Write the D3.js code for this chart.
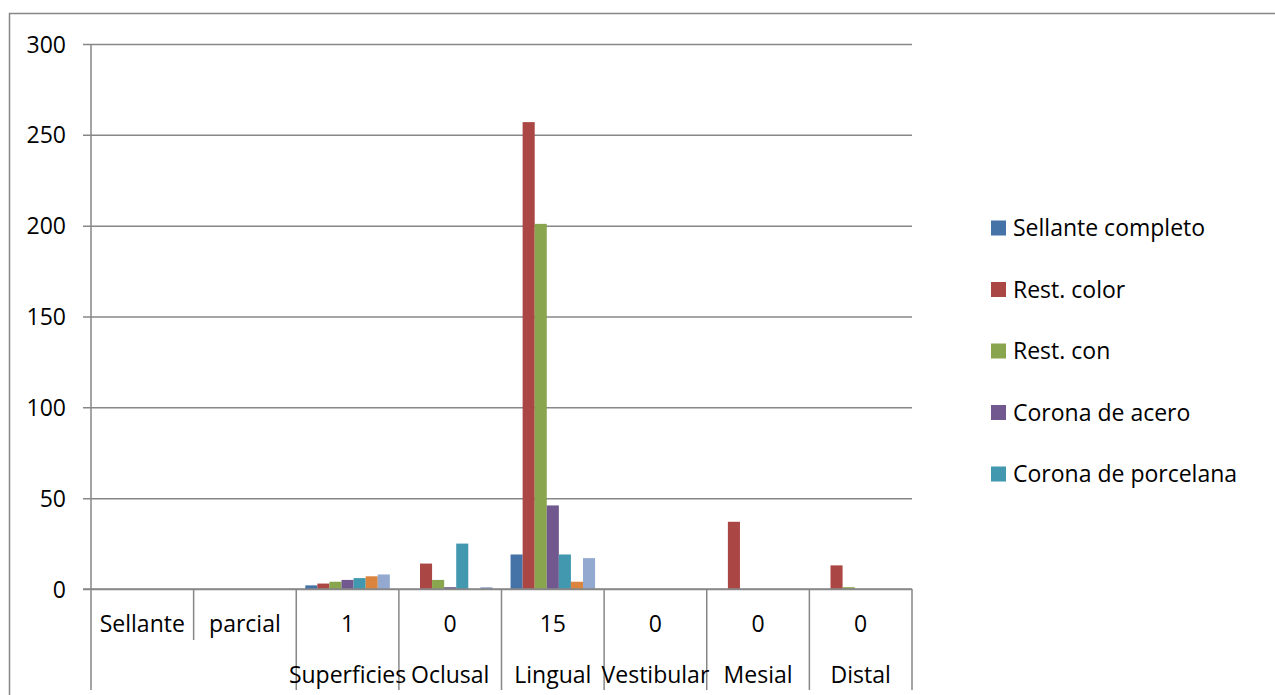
<!DOCTYPE html>
<html>
<head>
<meta charset="utf-8">
<script src="https://cdn.jsdelivr.net/npm/d3@7"></script>
<style>
  html, body { margin: 0; padding: 0; background: #fff; }
  svg { display: block; }
  text { font-family: "Open Sans", "Noto Sans", sans-serif; fill: #000; }
</style>
</head>
<body>
<svg id="chart" width="1275" height="695"></svg>
<script>
// Category axis: inner level (counts) and outer level (surfaces)
const innerLabels = ["Sellante", "parcial", "1", "0", "15", "0", "0", "0"];
const outerLabels = ["", "", "Superficies", "Oclusal", "Lingual", "Vestibular", "Mesial", "Distal"];

// Series values per category
const sellanteCompleto  = [0, 0, 2, 0, 19, 0, 0, 0];
const restColor         = [0, 0, 3, 14, 257, 0, 37, 13];
const restCon           = [0, 0, 4, 5, 201, 0, 0, 1];
const coronaAcero       = [0, 0, 5, 1, 46, 0, 0, 0];
const coronaPorcelana   = [0, 0, 6, 25, 19, 0, 0, 0];
const serie6            = [0, 0, 7, 0, 4, 0, 0, 0];
const serie7            = [0, 0, 8, 1, 17, 0, 0, 0];

const legendLabels = ["Sellante completo", "Rest. color", "Rest. con", "Corona de acero", "Corona de porcelana"];
const yTicks = [0, 50, 100, 150, 200, 250, 300];

const seriesValues = [sellanteCompleto, restColor, restCon, coronaAcero, coronaPorcelana, serie6, serie7];
const colors = ["#4572A7", "#AA4643", "#89A54E", "#71588F", "#4198AF", "#DB843D", "#93A9CF"];

const svg = d3.select("#chart");
const lineColor = "#878787";
const fontSize = "23px";
const plot = { left: 91, right: 912, top: 44, bottom: 589 };

// Outer frame
svg.append("rect")
  .attr("x", 9.5).attr("y", 13.5)
  .attr("width", 1300).attr("height", 720)
  .attr("fill", "none").attr("stroke", lineColor).attr("stroke-width", 1.5);

const y = d3.scaleLinear().domain([0, 300]).range([plot.bottom, plot.top]);
const x0 = d3.scaleBand().domain(d3.range(innerLabels.length)).range([plot.left, plot.right]).padding(0);
const catW = x0.bandwidth();
const barW = catW / (seriesValues.length + 1.5);
const x1 = d3.scaleBand().domain(d3.range(seriesValues.length))
  .range([barW * 0.75, barW * 0.75 + barW * seriesValues.length]).padding(0);

// Value axis with gridlines
const yAxis = d3.axisLeft(y).tickValues(yTicks).tickSize(-(plot.right - plot.left)).tickPadding(25);
const gy = svg.append("g").attr("transform", `translate(${plot.left},0)`).call(yAxis);
gy.select(".domain").remove();
gy.selectAll(".tick line")
  .attr("x1", -8)
  .attr("stroke", lineColor).attr("stroke-width", 1.5);
gy.selectAll(".tick text")
  .style("font-size", fontSize).attr("fill", "#000").attr("dy", "0.35em");

// Bars
const bars = svg.append("g");
seriesValues.forEach((vals, s) => {
  bars.selectAll(null).data(vals).join("rect")
    .attr("x", (d, i) => x0(i) + x1(s))
    .attr("width", x1.bandwidth())
    .attr("y", d => y(d))
    .attr("height", d => y(0) - y(d))
    .attr("fill", colors[s]);
});

// Axis lines
svg.append("line")
  .attr("x1", plot.left).attr("x2", plot.left)
  .attr("y1", plot.top).attr("y2", 690)
  .attr("stroke", lineColor).attr("stroke-width", 1.5);
svg.append("line")
  .attr("x1", plot.left - 8).attr("x2", plot.right)
  .attr("y1", y(0)).attr("y2", y(0))
  .attr("stroke", lineColor).attr("stroke-width", 1.5);

// Category separators: short within the blank outer group, long between outer groups
innerLabels.forEach((lab, i) => {
  const xr = x0(i) + catW;
  const sameGroup = i + 1 < innerLabels.length && outerLabels[i] === "" && outerLabels[i + 1] === "";
  svg.append("line")
    .attr("x1", xr).attr("x2", xr)
    .attr("y1", y(0)).attr("y2", sameGroup ? 640 : 690)
    .attr("stroke", lineColor).attr("stroke-width", 1.5);
});

// Category labels
svg.append("g").selectAll("text").data(innerLabels).join("text")
  .attr("x", (d, i) => x0(i) + catW / 2)
  .attr("y", 624).attr("dy", "0.35em")
  .attr("text-anchor", "middle")
  .style("font-size", fontSize)
  .text(d => d);
svg.append("g").selectAll("text").data(outerLabels).join("text")
  .attr("x", (d, i) => x0(i) + catW / 2)
  .attr("y", 675).attr("dy", "0.35em")
  .attr("text-anchor", "middle")
  .style("font-size", fontSize)
  .text(d => d);

// Legend
const legend = svg.append("g");
legendLabels.forEach((lab, i) => {
  const cy = 228 + i * 61.5;
  legend.append("rect")
    .attr("x", 991).attr("y", cy - 7.5)
    .attr("width", 15).attr("height", 15)
    .attr("fill", colors[i]);
  legend.append("text")
    .attr("x", 1013).attr("y", cy).attr("dy", "0.35em")
    .style("font-size", fontSize)
    .text(lab);
});
</script>
</body>
</html>
